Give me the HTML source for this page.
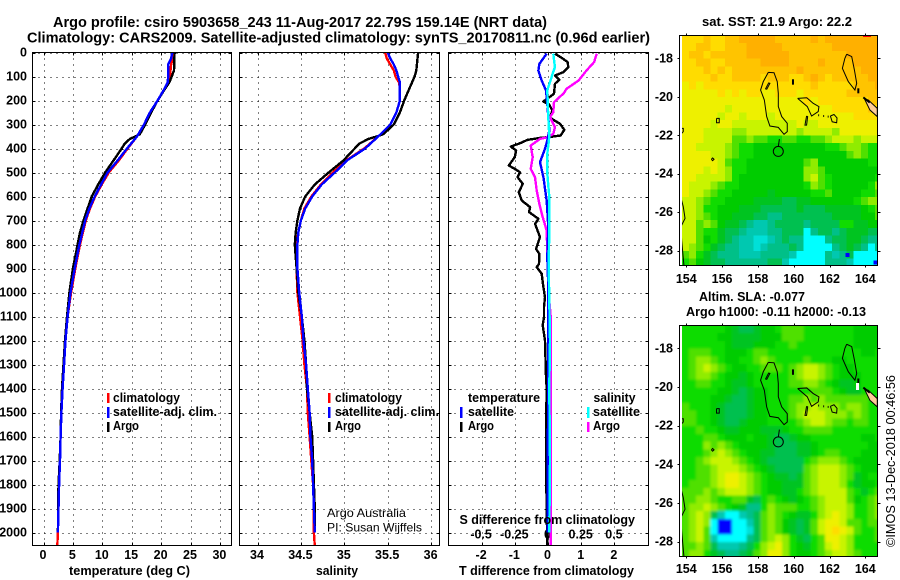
<!DOCTYPE html>
<html lang="en">
<head>
<meta charset="utf-8">
<title>Argo profile</title>
<style>
html,body{margin:0;padding:0;background:#fff;}
svg{display:block;}
text{font-family:"Liberation Sans",sans-serif;font-weight:bold;fill:#000;}
.thin{font-weight:normal;}
</style>
</head>
<body>
<svg id="chart" xmlns="http://www.w3.org/2000/svg" width="900" height="580" viewBox="0 0 900 580">
  <defs>
    <clipPath id="clip-sst"><rect x="682" y="35.5" width="195.5" height="230"/></clipPath>
    <clipPath id="clip-sla"><rect x="682" y="325.5" width="195.5" height="231"/></clipPath>
    <filter id="soft" x="-5%" y="-5%" width="110%" height="110%"><feGaussianBlur stdDeviation="1.2"/></filter>
  </defs>
  <rect x="0" y="0" width="900" height="580" fill="#fff"/>

  <text x="53" y="27" font-size="14.5" textLength="494" lengthAdjust="spacingAndGlyphs">Argo profile: csiro 5903658_243 11-Aug-2017 22.79S 159.14E (NRT data)</text>
  <text x="27" y="42.5" font-size="14.5" textLength="623" lengthAdjust="spacingAndGlyphs">Climatology: CARS2009. Satellite-adjusted climatology: synTS_20170811.nc (0.96d earlier)</text>

  <g id="panel-t"></g>
  <g id="panel-s"></g>
  <g id="panel-d"></g>
  <g id="map-sst"></g>
  <g id="map-sla"></g>

  <text x="69" y="575" font-size="12.5" textLength="121" lengthAdjust="spacingAndGlyphs">temperature (deg C)</text>
  <text x="316" y="575" font-size="12.5" textLength="42" lengthAdjust="spacingAndGlyphs">salinity</text>
  <text x="459" y="575" font-size="12.5" textLength="175" lengthAdjust="spacingAndGlyphs">T difference from climatology</text>
  <text x="459.5" y="524" font-size="12.5" textLength="175.5" lengthAdjust="spacingAndGlyphs">S difference from climatology</text>

  <g>
    <rect x="107" y="393" width="2.5" height="10" fill="#f00"/>
    <text x="113" y="402" font-size="12.5" textLength="67" lengthAdjust="spacingAndGlyphs">climatology</text>
    <rect x="107" y="407" width="2.5" height="11" fill="#00f"/>
    <text x="113" y="416" font-size="12.5" textLength="104" lengthAdjust="spacingAndGlyphs">satellite-adj. clim.</text>
    <rect x="107" y="422" width="2.5" height="10" fill="#000"/>
    <text x="113" y="430" font-size="12.5" textLength="26" lengthAdjust="spacingAndGlyphs">Argo</text>
  </g>
  <g>
    <rect x="328" y="393" width="2.5" height="10" fill="#f00"/>
    <text x="335" y="402" font-size="12.5" textLength="67" lengthAdjust="spacingAndGlyphs">climatology</text>
    <rect x="328" y="407" width="2.5" height="11" fill="#00f"/>
    <text x="335" y="416" font-size="12.5" textLength="104" lengthAdjust="spacingAndGlyphs">satellite-adj. clim.</text>
    <rect x="328" y="422" width="2.5" height="10" fill="#000"/>
    <text x="335" y="430" font-size="12.5" textLength="26" lengthAdjust="spacingAndGlyphs">Argo</text>
  </g>
  <g>
    <text x="468" y="402" font-size="12.5" textLength="72" lengthAdjust="spacingAndGlyphs">temperature</text>
    <rect x="460" y="407" width="2.5" height="11" fill="#00f"/>
    <text x="468" y="416" font-size="12.5" textLength="46" lengthAdjust="spacingAndGlyphs">satellite</text>
    <rect x="460" y="422" width="2.5" height="10" fill="#000"/>
    <text x="468" y="430" font-size="12.5" textLength="26" lengthAdjust="spacingAndGlyphs">Argo</text>
    <text x="593.5" y="402" font-size="12.5" textLength="42" lengthAdjust="spacingAndGlyphs">salinity</text>
    <rect x="587" y="407" width="2.5" height="11" fill="#0ff"/>
    <text x="593" y="416" font-size="12.5" textLength="47" lengthAdjust="spacingAndGlyphs">satellite</text>
    <rect x="587" y="422" width="2.5" height="10" fill="#f0f"/>
    <text x="593" y="430" font-size="12.5" textLength="27" lengthAdjust="spacingAndGlyphs">Argo</text>
  </g>

  <text class="thin" x="327" y="517" font-size="12" textLength="79" lengthAdjust="spacingAndGlyphs">Argo Australia</text>
  <text class="thin" x="327" y="531.5" font-size="12" textLength="95" lengthAdjust="spacingAndGlyphs">PI: Susan Wijffels</text>

  <text x="702" y="26" font-size="12.5" textLength="150" lengthAdjust="spacingAndGlyphs">sat. SST: 21.9 Argo: 22.2</text>
  <text x="699" y="301" font-size="12.5" textLength="106" lengthAdjust="spacingAndGlyphs">Altim. SLA: -0.077</text>
  <text x="686" y="316" font-size="12.5" textLength="180" lengthAdjust="spacingAndGlyphs">Argo h1000: -0.11 h2000: -0.13</text>
  <text class="thin" transform="translate(895,547) rotate(-90)" font-size="12.5" textLength="172" lengthAdjust="spacingAndGlyphs">©IMOS 13-Dec-2018 00:46:56</text>
</svg>

<script>
/* ---------- profile data ---------- */
const depthTicks = [0,100,200,300,400,500,600,700,800,900,1000,1100,1200,1300,1400,1500,1600,1700,1800,1900,2000];
const tempTicks = [0,5,10,15,20,25,30];
const salTicks = [34,34.5,35,35.5,36];
const salTickLabels = ['34','34.5','35','35.5','36'];
const tDiffTicks = [-2,-1,0,1,2];
const sDiffTickLabels = ['-0.5','-0.25','0','0.25','0.5'];
const sDiffTicks = [-0.5,-0.25,0,0.25,0.5];

const climDepths = [0,25,50,75,100,125,150,200,250,300,350,400,450,500,550,600,650,700,750,800,900,1000,1100,1200,1300,1400,1500,1600,1700,1800,1900,2000,2056];
const tempClim = [22.1,22.0,21.7,21.6,21.5,21.2,20.6,19.4,18.2,17.1,15.9,14.3,12.8,11.1,9.9,8.8,7.9,7.2,6.7,6.2,5.4,4.7,4.1,3.75,3.5,3.25,3.05,2.9,2.8,2.65,2.55,2.45,2.35];
const tempSat = [21.9,21.7,21.2,21.2,21.2,21.1,20.6,19.4,18.1,17.1,15.9,14.2,12.6,10.9,9.8,8.7,7.8,7.1,6.6,6.1,5.3,4.6,4.1,3.75,3.5,3.25,3.05,2.9,2.8,2.65,2.55,2.45];
const salClim = [35.47,35.49,35.53,35.57,35.59,35.63,35.64,35.64,35.6,35.53,35.39,35.23,35.02,34.87,34.73,34.62,34.54,34.5,34.47,34.45,34.45,34.46,34.49,34.52,34.54,34.57,34.58,34.6,34.62,34.64,34.65,34.65,34.66];
const salSat = [35.5,35.53,35.57,35.6,35.62,35.64,35.64,35.64,35.6,35.53,35.39,35.24,35.03,34.89,34.74,34.63,34.55,34.5,34.47,34.46,34.46,34.48,34.51,34.53,34.56,34.58,34.6,34.61,34.63,34.64,34.65,34.66];

const argoDepths = [0,75,100,125,150,200,250,300,340,350,360,380,400,450,500,550,600,650,700,750,800,850,900,1000,1100,1200,1300,1400,1500,1600,1700,1800,1900,2000];
const tempArgo = [22.3,22.2,21.8,21.4,20.7,19.4,18.3,17.3,16.4,15.6,14.7,13.8,13.3,11.9,10.5,9.3,8.2,7.5,6.8,6.2,5.8,5.4,5,4.4,4.0,3.65,3.4,3.15,3.0,2.9,2.75,2.55,2.5,2.45];
const salArgo = [35.85,35.83,35.81,35.78,35.75,35.69,35.64,35.57,35.45,35.37,35.28,35.17,35.12,34.99,34.82,34.66,34.55,34.49,34.46,34.44,34.43,34.44,34.45,34.47,34.51,34.54,34.56,34.57,34.6,34.63,34.64,34.65,34.66,34.66];

/* difference panel */
const tDiffArgoDepths = [5,22,40,61,82,96,114,130,172,204,217,242,272,297,322,346,351,356,364,378,392,408,436,471,485,499,519,547,582,617,644,665,693,714,769,818,839,881,894,922,978,1019,1061,1102,1137,1200,1350,1400,1560,1714,1980,2056];
const tDiffArgo = [0.21,0.41,0.59,0.61,0.46,0.21,0.34,0.21,0.18,-0.14,0.04,0.13,0.06,0.36,0.49,0.38,0.11,-0.24,-0.62,-0.84,-1.12,-0.96,-1.0,-1.18,-1.0,-0.84,-0.92,-0.76,-0.88,-0.79,-0.54,-0.57,-0.29,-0.39,-0.24,-0.36,-0.26,-0.27,-0.34,-0.19,-0.14,-0.09,-0.12,-0.12,-0.16,-0.09,-0.06,-0.04,-0.06,-0.06,-0.03,-0.02];
const tDiffSatDepths = [5,47,75,117,158,214,325,367,401,457,519,617,728,853,978,1200,1500,2000];
const tDiffSat = [-0.04,-0.26,-0.29,-0.19,-0.06,-0.02,0.04,-0.02,-0.09,-0.24,-0.14,-0.04,0.01,-0.02,0.01,0.0,0.0,-0.01];
const sDiffArgoDepths = [5,40,75,117,151,169,207,249,269,311,339,353,360,388,436,485,519,575,631,686,742,839,922,1033,1100,1500,2056];
const sDiffArgo = [0.367,0.347,0.29,0.23,0.14,0.12,0.045,0.04,0.015,0.053,0.04,-0.005,-0.06,-0.13,-0.115,-0.13,-0.098,-0.085,-0.065,-0.04,-0.01,-0.005,0.002,0.01,0.02,0.02,0.02];
const sDiffSatDepths = [5,61,89,158,269,352,422,505,602,727,894,1033,1200,1400,1700,2000];
const sDiffSat = [0.04,0.052,0.035,-0.005,0.002,0.01,-0.005,-0.005,0.01,0.01,0.005,0.01,0.015,0.01,0.015,0.01];

/* ---------- map data: one letter per 0.4-degree cell, mapped through mapLevels ---------- */
const mapLevels = {a:'#ffb000',b:'#ffc400',c:'#ffdc00',d:'#eef000',e:'#c8f400',f:'#90ec00',g:'#50e000',h:'#10dc00',i:'#00cc00',j:'#00c420',k:'#00c050',l:'#00c088',m:'#00c8b0',n:'#00e0d8',o:'#00ffff',p:'#0000ff'};
const mapTickLons = [154,156,158,160,162,164];
const mapTickLats = [-18,-20,-22,-24,-26,-28];
const sstRows = [
'cccbccbbaaaaabbbbbabaaaaaaaa',
'ccbbccbbbaaaaabbbbbbbaaaaaaa',
'cbbcbbbbbaaaaaabbbbbbbbaaaaa',
'ccbbccbbbbbaaaabbbbabbbbaaaa',
'cccbcbcbbbbbbbbbabbbbbbbbaaa',
'ccccbccbbbbcbbbccbabcbbbbbaa',
'dcdcccccccccccccccbcccccbbba',
'dddddcdcdccddcccdccccccbbbbb',
'dddddddddddddddddcdcccccccbb',
'ddddddeddddddddddddddcccccbc',
'dddddeddedddedddddddddddcccc',
'ddddeddeeeeeeeeedeeddddddddd',
'dddeeeeffeeeeeeefeeeefdddddd',
'dddeeeeggfgghhgghhggfeeefeee',
'ddeeeefghhiiiiiiiiiihhgffghh',
'ddddeefghhiiiiiiiiiiiiigfghh',
'dddddeghhiiiiiiiigfiiiiiiihh',
'dddedefhhiiiiiiiiffgiiiiiiii',
'ddeeeefhiiiiiiiiifeghiiiiiih',
'deeefghhiiiiiiiiihfghiiiiihf',
'deefghhiiiiijiiiiihhgiiiihhg',
'eefghhiiiijjjjkkjjiiiiiihgff',
'eefhhiiijjjkkkkkjkkkjjjjjihg',
'eefghiijjjkkllkkkkkkkjjjjiig',
'eegfgijjklmmlkkkklkkkkhhjjii',
'eeghhjkklmmmllkkkolkklkjjjkk',
'eegihjklmmnnmlkllooolkkjjkll',
'efghjkllmmnmlllkloooolkjklol',
'gfhjklllmmmllllmoooolmlkoooo',
'hgijkkllllllkkmooooolllmoooo'];
const slaRows = [
'hhhhhhijkkjiihggghhhhhhhiiii',
'hhhhhiijjjjiiiggghhhhhhhiiii',
'hhhhhhijjjiiihhghhhhhhhhiiii',
'hggghhiiihgghhhhhhhhhhhhhiih',
'hgffghiihhgfghhhhghhhiihhhhh',
'hgfefghiihhggghgfeefghiihhhh',
'hgffghiijihhhhhgfeefghiiihhh',
'hhgghhijjihhhhhggffghijjihhh',
'hhhhhiijkjiihhhhhhggghijjhhh',
'hhhhiijkkjiihhhggfgfgggggghh',
'ghhhijkkkjiihhhgffefffgffghh',
'gghhijkkkjiihhhgfeeefffgfghh',
'gghhijkkjiiihhhhgfeefgghgghh',
'hhghhijjiiijjjihhgggghhhhhhh',
'hhhgghiiihiijkkjiihhhhhhhiih',
'hhhfgfghiiiijkkkjjihhhhhhhii',
'hhhgfefghiijjkkkjjihgghhhiii',
'hhgfeeefghijkkkkkhgfffghiiii',
'hhggfeeefghijkkkkgfeeefghiii',
'hhggfeddefghijjkjgfeeefgjihh',
'hgggfeddefghiijjjgfeeefhjiih',
'gggfgfeeefghiijjhgfeeeeghjhg',
'ggffghhggjkhghijihgfeeegihgf',
'gffefghijllhfggghhgfeeefhhgf',
'gfefkmoomlkgfghijjhfedefhhgf',
'gfefoppoomkgfgijkjgeddegghgg',
'gfegoppoonkgfgijkjgedcdeghhg',
'gfegmoooolkgfefhjkhgddefhhhg',
'ggfgkmmmlkhfedfhijhgedefhhhh',
'gffhjkllkjgfddfhiihgfeefghhh'];
const coastLines = [
[[158.58,-18.73],[158.9,-18.75],[159.08,-19.21],[159.14,-19.82],[159.14,-20.51],[159.33,-21.03],[159.64,-21.38],[159.64,-21.81],[159.46,-21.95],[159.14,-21.59],[158.67,-21.52],[158.49,-21.03],[158.36,-20.17],[158.15,-19.65],[158.3,-19.21],[158.58,-18.73]],
[[158.42,-19.6],[158.6,-19.28],[158.67,-19.3],[158.5,-19.6],[158.42,-19.6]],
[[160.22,-20.08],[160.73,-20.05],[161.09,-20.34],[161.41,-20.51],[161.37,-20.77],[161,-21],[160.76,-20.51],[160.22,-20.08]],
[[160.72,-21],[160.63,-21.47],[160.72,-21.47],[160.78,-21.03],[160.72,-21]],
[[162.96,-17.79],[163.24,-17.91],[163.39,-18.6],[163.52,-19.3],[163.42,-19.65],[163.05,-19.21],[162.72,-18.52],[162.86,-18],[162.96,-17.79]],
[[162.05,-21],[162.25,-20.92],[162.42,-21.1],[162.4,-21.35],[162.15,-21.3],[162.05,-21]],
[[153.65,-25.07],[153.83,-25.71],[153.93,-26.32],[153.7,-26.75],[153.74,-27.45],[153.87,-28.8]],
[[153.65,-21.64],[153.83,-21.64],[153.83,-21.81],[153.65,-21.99]],
[[155.69,-21.12],[155.84,-21.12],[155.84,-21.35],[155.69,-21.35],[155.69,-21.12]],
[[155.4,-23.25],[155.47,-23.18],[155.55,-23.25],[155.47,-23.32],[155.4,-23.25]],
[[159.14,-22.6],[159.2,-22.2]]];
const thickCoast = [
[[159.96,-19.09],[159.96,-19.37]],
[[163.61,-19.56],[163.61,-19.82]],
[[163.89,-20.03],[164.25,-20.3]],
[[161.37,-20.96],[161.42,-20.96]],
[[161.65,-21],[161.7,-21]],
[[161.9,-21.03],[161.95,-21.03]]];
const landPolygon = [[163.95,-20.1],[164.17,-20.17],[164.67,-20.6],[164.67,-21.03],[164.26,-20.69]];
const argoPosition = [159.14,-22.84];
const sstOddCells = [[163.0,-28.22,'#0000ff'],[164.58,-28.62,'#0000ff']];

/* ---------- helpers ---------- */
const NS = 'http://www.w3.org/2000/svg';
function mk(parent, tag, attrs, txt){
  const el = document.createElementNS(NS, tag);
  for (const k in attrs) el.setAttribute(k, attrs[k]);
  if (txt !== undefined) el.textContent = txt;
  parent.appendChild(el);
  return el;
}
const yDepth = d => 52.5 + 0.24 * d;
const xTemp = t => 43.5 + 5.88 * t;
const xSal = s => 257.5 + 86.8 * (s - 34);
const xTDiff = t => 548 + 33.2 * t;
const xSDiff = s => 548 + 132.8 * s;
const TOP = 52.5, BOTTOM = 545.5;

function pathFrom(depths, values, xf){
  let p = '';
  for (let i = 0; i < values.length; i++) p += (i ? 'L' : 'M') + xf(values[i]).toFixed(1) + ' ' + yDepth(depths[i]).toFixed(1);
  return p;
}
function drawProfile(g, depths, values, xf, color, name){
  const el = mk(g, 'path', {d: pathFrom(depths, values, xf), fill: 'none', stroke: color, 'stroke-width': 2.4, 'shape-rendering': 'crispEdges', 'stroke-linejoin': 'round'});
  
  
}
function drawFrame(g, left, right, xTickPos, labelFn, xName){
  depthTicks.forEach(d => {
    const y = Math.round(yDepth(d)) + 0.5;
    const ln = mk(g, 'line', {x1: left, x2: right, y1: y, y2: y, stroke: '#000', 'stroke-dasharray': '1 5', 'shape-rendering': 'crispEdges'});
    
    
    const t1 = mk(g, 'path', {d: 'M' + left + ' ' + y + 'h3M' + right + ' ' + y + 'h-3', stroke: '#000', 'shape-rendering': 'crispEdges'});
    
    
  });
  xTickPos.forEach((x, i) => {
    const xx = Math.round(x) + 0.5;
    const ln = mk(g, 'line', {x1: xx, x2: xx, y1: TOP, y2: BOTTOM, stroke: '#000', 'stroke-dasharray': '1 5', 'shape-rendering': 'crispEdges'});
    
    
    const t1 = mk(g, 'path', {d: 'M' + xx + ' ' + TOP + 'v3M' + xx + ' ' + BOTTOM + 'v-3', stroke: '#000', 'shape-rendering': 'crispEdges'});
    
    
    const lb = mk(g, 'text', {x: x - 0.5, y: 559, 'font-size': 12.5, 'text-anchor': 'middle'}, labelFn(i));
    
    
  });
}
function drawBox(g, left, right, top, bottom, name){
  const b = mk(g, 'rect', {x: left, y: top, width: right - left, height: bottom - top, fill: 'none', stroke: '#000', 'shape-rendering': 'crispEdges'});
  
  
}

/* ---------- temperature panel ---------- */
const gT = document.getElementById('panel-t');
drawFrame(gT, 32.5, 231.5, tempTicks.map(xTemp), i => String(tempTicks[i]), 'temperature');
depthTicks.forEach(d => {
  const lb = mk(gT, 'text', {x: 27, y: yDepth(d) + 4, 'font-size': 12.5, 'text-anchor': 'end'}, String(d));
  
  
});
drawProfile(gT, climDepths, tempClim, xTemp, '#f00', 'temperature-climatology-line');
drawProfile(gT, argoDepths, tempArgo, xTemp, '#000', 'temperature-argo-line');
drawProfile(gT, climDepths, tempSat, xTemp, '#00f', 'temperature-satellite-line');
drawBox(gT, 32.5, 231.5, TOP, BOTTOM, 'temperature-plot-frame');

/* ---------- salinity panel ---------- */
const gS = document.getElementById('panel-s');
drawFrame(gS, 239.5, 439.5, salTicks.map(xSal), i => salTickLabels[i], 'salinity');
drawProfile(gS, climDepths, salClim, xSal, '#f00', 'salinity-climatology-line');
drawProfile(gS, argoDepths, salArgo, xSal, '#000', 'salinity-argo-line');
drawProfile(gS, climDepths, salSat, xSal, '#00f', 'salinity-satellite-line');
drawBox(gS, 239.5, 439.5, TOP, BOTTOM, 'salinity-plot-frame');

/* ---------- difference panel ---------- */
const gD = document.getElementById('panel-d');
drawFrame(gD, 448.5, 648.5, tDiffTicks.map(xTDiff), i => String(tDiffTicks[i]), 't-difference');
sDiffTicks.forEach((s, i) => {
  const lb = mk(gD, 'text', {x: xSDiff(s) - 0.5, y: 538.7, 'font-size': 12.5, 'text-anchor': 'middle'}, sDiffTickLabels[i]);
  
  
});
drawProfile(gD, tDiffArgoDepths, tDiffArgo, xTDiff, '#000', 't-difference-argo-line');
drawProfile(gD, sDiffArgoDepths, sDiffArgo, xSDiff, '#f0f', 's-difference-argo-line');
drawProfile(gD, tDiffSatDepths, tDiffSat, xTDiff, '#00f', 't-difference-satellite-line');
drawProfile(gD, sDiffSatDepths, sDiffSat, xSDiff, '#0ff', 's-difference-satellite-line');
drawBox(gD, 448.5, 648.5, TOP, BOTTOM, 'difference-plot-frame');

/* ---------- maps ---------- */
function drawMap(gId, rows, topY, bottomY, lat18Y, pxPerDeg, clipId, labelY, filterId, backing, prefix){
  const g = document.getElementById(gId);
  const xLon = lon => 686.3 + 17.9 * (lon - 154);
  const yLat = lat => lat18Y + pxPerDeg * (-18 - lat);
  const topLat = -18 + (lat18Y - topY) / pxPerDeg;
  const holder = mk(g, 'g', {'clip-path': 'url(#' + clipId + ')'});
  
  
  const cells = mk(holder, 'g', filterId ? {filter: 'url(#' + filterId + ')'} : {});
  
  
  const back = mk(cells, 'rect', {x: 670, y: topY - 10, width: 220, height: bottomY - topY + 20, fill: backing});
  
  
  rows.forEach((row, j) => {
    for (let i = 0; i < row.length; i++){
      const lon = 153.75 + i * 0.4;
      const lat = topLat - j * 0.4;
      const c = mk(cells, 'rect', {x: xLon(lon), y: yLat(lat), width: 7.5, height: pxPerDeg * 0.4 + 0.4, fill: mapLevels[row[i]], 'shape-rendering': 'crispEdges'});
      
      
    }
  });
  const land = mk(holder, 'polygon', {points: landPolygon.map(p => xLon(p[0]) + ',' + yLat(p[1])).join(' '), fill: '#ffcc99', stroke: '#000'});
  
  
  coastLines.forEach(line => {
    const el = mk(holder, 'polyline', {points: line.map(p => xLon(p[0]) + ',' + yLat(p[1])).join(' '), fill: 'none', stroke: '#000', 'stroke-width': 1});
    
    
  });
  thickCoast.forEach(line => {
    const el = mk(holder, 'polyline', {points: line.map(p => xLon(p[0]) + ',' + yLat(p[1])).join(' '), fill: 'none', stroke: '#000', 'stroke-width': 2});
    
    
  });
  const circle = mk(holder, 'circle', {cx: xLon(argoPosition[0]), cy: yLat(argoPosition[1]), r: 5, fill: 'none', stroke: '#000'});
  
  
  if (prefix === 'sst') {
    sstOddCells.forEach(c => {
      const el = mk(holder, 'rect', {x: xLon(c[0]) - 2, y: yLat(c[1]) - 2, width: 4, height: 4, fill: c[2], 'shape-rendering': 'crispEdges'});
      
      
    });
    const cap = mk(holder, 'rect', {x: 863, y: 35.5, width: 8, height: 1.5, fill: '#f00', 'shape-rendering': 'crispEdges'});
    
    
  } else {
    const gap = mk(holder, 'rect', {x: 856, y: yLat(-19.8), width: 3, height: 7, fill: '#fff', 'shape-rendering': 'crispEdges'});
    
    
  }
  mapTickLons.forEach(lon => {
    const x = Math.round(xLon(lon)) + 0.5;
    const t = mk(g, 'path', {d: 'M' + x + ' ' + topY + 'v-2M' + x + ' ' + bottomY + 'v2', stroke: '#000', 'shape-rendering': 'crispEdges'});
    
    
    const lb = mk(g, 'text', {x: xLon(lon), y: labelY, 'font-size': 12.5, 'text-anchor': 'middle'}, String(lon));
    
    
  });
  mapTickLats.forEach(lat => {
    const y = Math.round(yLat(lat)) + 0.5;
    const t = mk(g, 'path', {d: 'M679.5 ' + y + 'h-2M877.5 ' + y + 'h3', stroke: '#000', 'shape-rendering': 'crispEdges'});
    
    
    const lb = mk(g, 'text', {x: 673, y: yLat(lat) + 4, 'font-size': 12.5, 'text-anchor': 'end'}, String(lat));
    
    
  });
  drawBox(g, 679.5, 877.5, topY, bottomY, prefix + '-map-frame');
}
drawMap('map-sst', sstRows, 35.5, 265.5, 58.3, 19.24, 'clip-sst', 283, null, '#00cc00', 'sst');
drawMap('map-sla', slaRows, 325.5, 556.5, 348.3, 19.34, 'clip-sla', 573, 'soft', '#10dc00', 'sla');
</script>
</body>
</html>
